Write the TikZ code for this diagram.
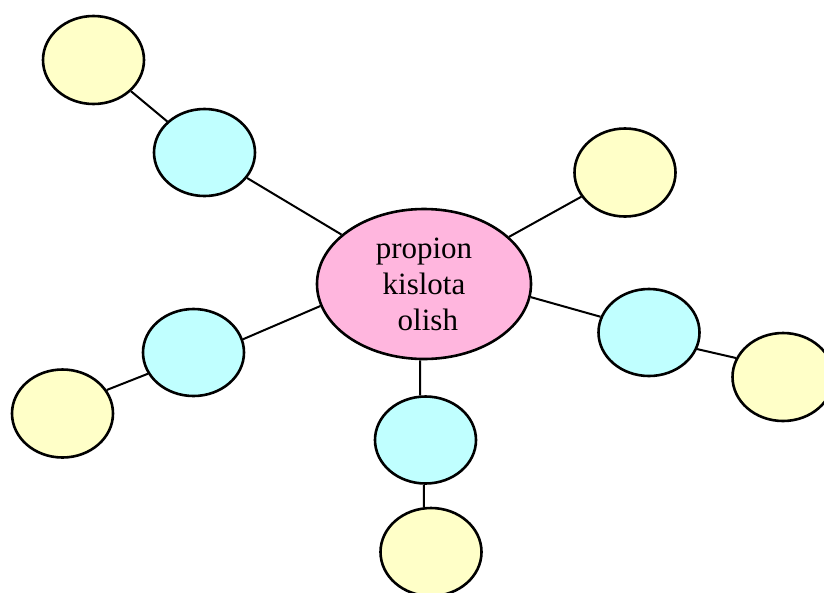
\documentclass[tikz,border=0pt]{standalone}
\usepackage{fontspec}
\setmainfont{Liberation Serif}
\usepackage{tikz}
\usetikzlibrary{shapes.geometric}
\definecolor{hubpink}{RGB}{255,182,222}
\definecolor{branchcyan}{RGB}{192,255,255}
\definecolor{leafyellow}{RGB}{255,255,200}

\begin{document}
\begin{tikzpicture}[
  x=1pt, y=-1pt,
  hub/.style={draw, ellipse, line width=2.6pt, fill=hubpink, inner sep=0pt,
    minimum width=214pt, minimum height=150pt, align=center,
    font=\fontsize{31}{36}\selectfont},
  branch/.style={draw, ellipse, line width=2.6pt, fill=branchcyan, inner sep=0pt,
    minimum width=101pt, minimum height=87pt},
  leaf/.style={draw, ellipse, line width=2.6pt, fill=leafyellow, inner sep=0pt,
    minimum width=101pt, minimum height=88pt},
  link/.style={line width=2pt},
]
\useasboundingbox (0,0) rectangle (824,592);
\clip (0,0) rectangle (824,592);
\node[hub] (hub) at (424,284) {propion\\kislota\\\ olish};
\node[branch] (bul) at (204.5,152.5) {};
\node[branch] (bl) at (193.5,352.5) {};
\node[branch] (br) at (649,332.5) {};
\node[branch] (bb) at (425.5,440) {};
\node[leaf] (ltl) at (93.5,60) {};
\node[leaf] (ltr) at (625,172.5) {};
\node[leaf] (lfr) at (783,377) {};
\node[leaf] (lbl) at (62.5,413.5) {};
\node[leaf] (lbb) at (431,552) {};
% links between borders
\draw[link] (ltl) -- (bul);
\draw[link] (bul) -- (hub);
\draw[link] (hub) -- (ltr);
\draw[link] (hub.-7) -- (br.162);
\draw[link] (br.-19) -- (lfr.158);
\draw[link] (hub.192) -- (bl.15);
\draw[link] (bl.205) -- (lbl.28);
\draw[link] (hub.-93) -- (bb.97);
\draw[link] (bb.-92) -- (lbb.99);
\end{tikzpicture}
\end{document}
